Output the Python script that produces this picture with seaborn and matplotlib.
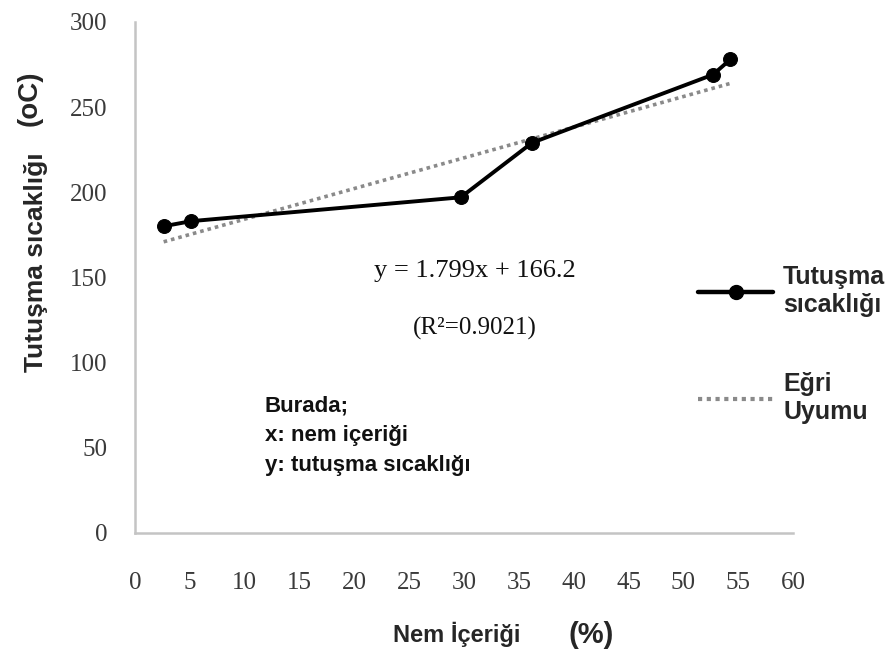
import numpy as np
import pandas as pd
import matplotlib
matplotlib.use('Agg')
import matplotlib.pyplot as plt
import seaborn as sns
from matplotlib.lines import Line2D

# data
nem = [2.6, 5.1, 29.7, 36.2, 52.7, 54.3]
sicaklik = [180, 183, 197, 229, 269, 278]
slope = 1.799
intercept = 166.2
x_ticks = list(range(0, 61, 5))
y_ticks = list(range(0, 301, 50))

df = pd.DataFrame({'nem': nem, 'sicaklik': sicaklik})
fit_x = np.array([min(nem), max(nem)])
fit_df = pd.DataFrame({'nem': fit_x, 'fit': slope * fit_x + intercept})

sns.set_style('white')
plt.rcParams['font.family'] = ['Liberation Sans', 'DejaVu Sans']

fig = plt.figure(figsize=(8.95, 6.62), dpi=100)
ax = fig.add_axes([0.151, 0.195, 0.735, 0.772])

# trend line first (under the data line)
sns.lineplot(data=fit_df, x='nem', y='fit', ax=ax, color='#8a8a8a',
             linewidth=2.6, linestyle=(0, (1, 1.1)))
sns.lineplot(data=df, x='nem', y='sicaklik', ax=ax, color='black',
             linewidth=2.8, marker='o', markersize=10, markeredgecolor='black')

ax.set_xlim(0, 60)
ax.set_ylim(0, 300)
ax.set_xticks(x_ticks)
ax.set_yticks(y_ticks)
tick_font = dict(family='Liberation Serif', size=18, color='#3a3a3a')
ax.set_xticklabels([str(t) for t in x_ticks], fontdict=tick_font)
ax.set_yticklabels([str(t) for t in y_ticks], fontdict=tick_font)
ax.tick_params(axis='x', length=0, pad=28)
ax.tick_params(axis='y', length=0, pad=20)
ax.set_xlabel('')
ax.set_ylabel('')

for side in ['top', 'right']:
    ax.spines[side].set_visible(False)
for side in ['left', 'bottom']:
    ax.spines[side].set_color('#c4c4c4')
    ax.spines[side].set_linewidth(1.8)

# equation and R2
ax.text(31, 154, 'y = 1.799x + 166.2', family='Liberation Serif', fontsize=19,
        ha='center', va='center', color='#111111')
ax.text(31, 120, '(R²=0.9021)', family='Liberation Serif', fontsize=18,
        ha='center', va='center', color='#111111')

# explanation block
ax.text(11.8, 57, 'Burada;\nx: nem içeriği\ny: tutuşma sıcaklığı',
        fontsize=16, fontweight='bold', ha='left', va='center',
        linespacing=1.55, color='#111111')

# axis labels
fig.text(0.510, 0.041, 'Nem İçeriği', fontsize=17, fontweight='bold',
         ha='center', va='center')
fig.text(0.661, 0.041, '(%)', fontsize=21, fontweight='heavy',
         ha='center', va='center')
fig.text(0.040, 0.604, 'Tutuşma sıcaklığı', fontsize=19, fontweight='bold',
         rotation=90, ha='center', va='center')
fig.text(0.033, 0.852, '(oC)', fontsize=20, fontweight='heavy',
         rotation=90, ha='center', va='center')

# legend
handles = [
    Line2D([], [], color='black', linewidth=3.2, marker='o', markersize=10),
    Line2D([], [], color='#8a8a8a', linewidth=3, linestyle=(0, (1, 1.1))),
]
fig.legend(handles, ['Tutuşma\nsıcaklığı', 'Eğri\nUyumu'],
           loc='upper left', bbox_to_anchor=(0.755, 0.633), frameon=False,
           prop=dict(family='Liberation Sans', weight='bold', size=18),
           handlelength=3.0, handletextpad=0.4, labelspacing=2.2)

plt.savefig('out.png', dpi=100)
plt.close()
